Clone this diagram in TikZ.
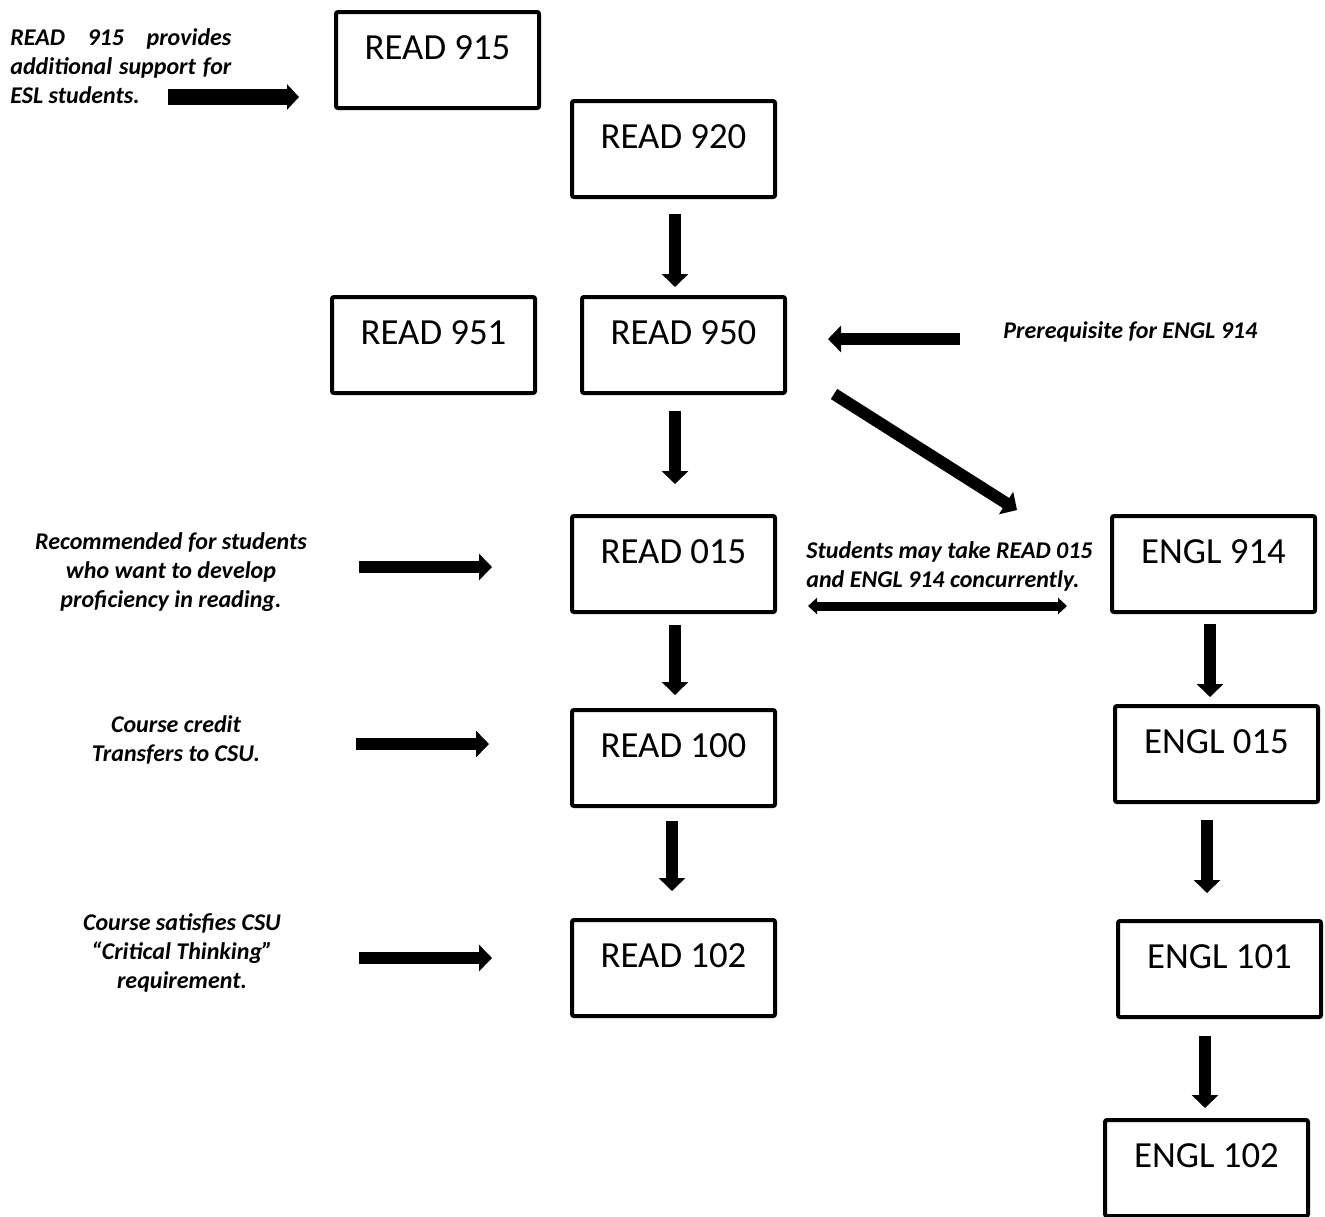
\documentclass[tikz,border=0pt]{standalone}
\usepackage{fontspec}
\setmainfont{Carlito}
\usetikzlibrary{arrows.meta,calc}
\begin{document}
\begin{tikzpicture}[x=0.5pt,y=-0.5pt,
  box/.style={draw,line width=2pt,rounded corners=1pt,anchor=north west,
    minimum width=101.5pt,inner xsep=0pt,inner ysep=0pt,
    text height=23.5pt,text depth=24.5pt,font=\fontsize{18.4}{20}\selectfont},
  note/.style={inner sep=0pt,font=\fontsize{12}{14.5}\selectfont\bfseries\itshape},
  bigarrow/.style={line width=6pt,-{Triangle[length=6.5pt,width=13pt]}},
  fatarrow/.style={line width=8pt,-{Triangle[length=6pt,width=12.5pt]}},
  duoarrow/.style={line width=4.5pt,{Triangle[length=4.5pt,width=8pt]}-{Triangle[length=4.5pt,width=8pt]}}
]
\useasboundingbox (0,0) rectangle (1325,1216);

% boxes
\node[box] (r915) at (334,10) {READ 915};
\node[box] (r920) at (570,99) {READ 920};
\node[box] (r951) at (330,295) {READ 951};
\node[box] (r950) at (580,295) {READ 950};
\node[box] (r015) at (570,514) {READ 015};
\node[box] (e914) at (1110,514) {ENGL 914};
\node[box] (r100) at (570,708) {READ 100};
\node[box] (e015) at (1113,704) {ENGL 015};
\node[box] (r102) at (570,918) {READ 102};
\node[box] (e101) at (1116,919) {ENGL 101};
\node[box] (e102) at (1103,1118) {ENGL 102};

% notes
\node[note,anchor=base west] (t915) at (10,45)
  {\parbox[t]{110.5pt}{\makebox[110.5pt][s]{READ 915 provides}\par
   \makebox[110.5pt][s]{additional support for}\par ESL students.}};
\node[note,anchor=base] (trec) at (171,549)
  {\parbox[t]{170pt}{\centering Recommended for students\\ who want to develop\\ proficiency in reading.}};
\node[note,anchor=base] (tcred) at (176,732)
  {\parbox[t]{170pt}{\centering Course credit\\ Transfers to CSU.}};
\node[note,anchor=base] (tsat) at (182,930)
  {\parbox[t]{170pt}{\centering Course satisfies CSU\\ “Critical Thinking”\\ requirement.}};
\node[note,anchor=base west] (tpre) at (1003,338) {Prerequisite for ENGL 914};
\node[note,anchor=base west] (tstu) at (806,558)
  {\parbox[t]{170pt}{\raggedright Students may take READ 015\\ and ENGL 914 concurrently.}};

% arrow end points for annotation arrows
\coordinate (a915s) at (168,97);  \coordinate (a915e) at (299,97);
\coordinate (arecs) at (359,567); \coordinate (arece) at (492,567);
\coordinate (acrs) at (356,744);  \coordinate (acre) at (489,744);
\coordinate (asats) at (359,958); \coordinate (asate) at (492,958);
\coordinate (apres) at (960,339); \coordinate (apree) at (828,339);
\coordinate (duol) at (808,606);  \coordinate (duor) at (1067,606);

\draw[fatarrow] (a915s) -- (a915e);
\draw[bigarrow] (arecs) -- (arece);
\draw[bigarrow] (acrs) -- (acre);
\draw[bigarrow] (asats) -- (asate);
\draw[bigarrow] (apres) -- (apree);
\draw[duoarrow] (duol) -- (duor);

% flow arrows
\draw[bigarrow] ($(r920.south)+(1.5,15)$) -- ($(r950.north)+(-8.5,-8)$);
\draw[bigarrow] ($(r950.south)+(-8.5,16)$) -- ($(r015.north)+(1.5,-30)$);
\draw[bigarrow] ($(r015.south)+(1.5,11)$) -- ($(r100.north)+(1.5,-13)$);
\draw[bigarrow] ($(r100.south)+(-1.5,13)$) -- ($(r102.north)+(-1.5,-27)$);
\draw[bigarrow] ($(e914.south)+(-3.5,10)$) -- ($(e015.north)+(-6.5,-7)$);
\draw[bigarrow] ($(e015.south)+(-9.5,16)$) -- ($(e101.north)+(-12.5,-26)$);
\draw[bigarrow] ($(e101.south)+(-14.5,17)$) -- ($(e102.north)+(-1.5,-10)$);
\draw[bigarrow] ($(r950.east)+(47,49)$) -- ($(e914.north west)+(-93,-4)$);
\end{tikzpicture}
\end{document}
